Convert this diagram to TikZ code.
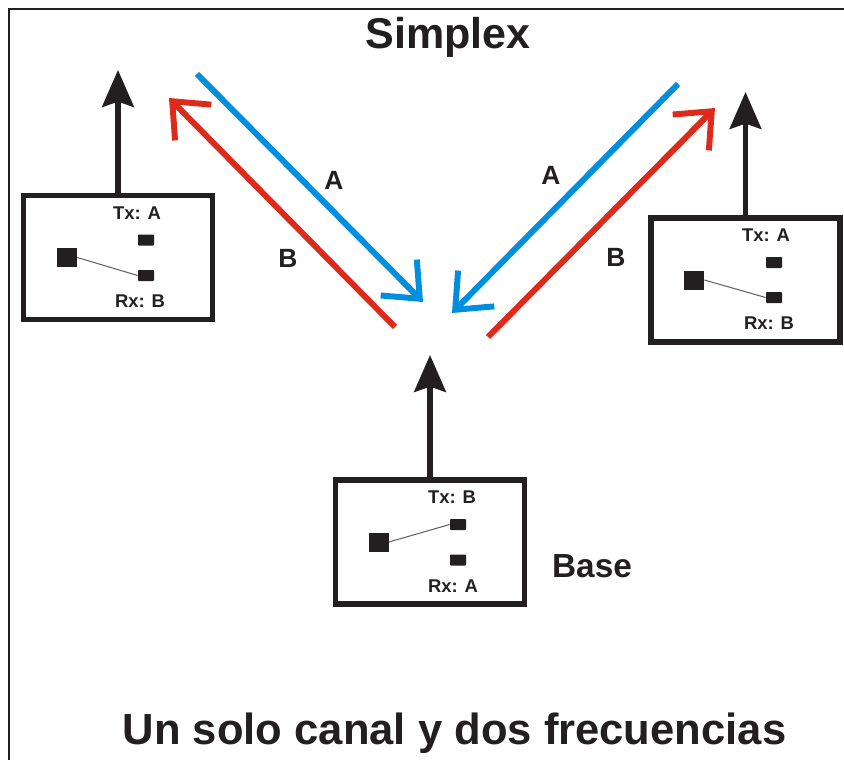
\documentclass[tikz,border=0pt]{standalone}
\usepackage{fontspec}
\setmainfont{Liberation Sans}
\usetikzlibrary{calc}
\usetikzlibrary{arrows.meta}
\definecolor{chanA}{RGB}{0,142,222}
\definecolor{chanB}{RGB}{222,42,27}
\definecolor{ink}{RGB}{35,31,32}

\begin{document}
\begin{tikzpicture}[x=0.02cm,y=-0.02cm]
\tikzset{radio/.style={draw=ink, line width=3pt, minimum width=3.78cm, minimum height=2.48cm, inner sep=0pt}}
\tikzset{plug/.style={fill=ink, inner sep=0pt, minimum width=0.4cm, minimum height=0.38cm}}
\tikzset{pin/.style={fill=ink, inner sep=0pt, minimum width=0.32cm, minimum height=0.22cm, rounded corners=0.5pt}}
\tikzset{lever/.style={draw=ink!70, line width=0.6pt}}
\tikzset{tag/.style={font=\fontsize{10.5}{12}\selectfont\bfseries, text=ink}}
\tikzset{antenna/.style={draw=ink, line width=3pt, -{Stealth[length=21pt, width=18pt, inset=3pt]}}}
\tikzset{wave/.style={line width=3.4pt, -{Straight Barb[length=17pt, width=29pt]}}}
\tikzset{freq/.style={font=\fontsize{15}{18}\selectfont\bfseries, text=ink}}

\useasboundingbox (0,0) rectangle (844,760);
\draw[ink, line width=1.2pt] (9,760) -- (9,9) -- (844,9);

\node[font=\fontsize{24.5}{28}\selectfont\bfseries, text=ink] (title) at (448,37) {Simplex};

% left station
\node[radio] (L) at (118,257.5) {};
\node[plug] (Lsw) at ($(L) + (-51,0)$) {};
\node[pin] (Ltx) at ($(L) + (28,-17.5)$) {};
\node[pin] (Lrx) at ($(L) + (28,18)$) {};
\node[tag] (Ltxl) at ($(L) + (19,-44.5)$) {Tx: A};
\node[tag] (Lrxl) at ($(L) + (22,43.5)$) {Rx: B};
\draw[lever] (Lsw.east) -- (Lrx.west);
\coordinate (Ltip) at (118,70);
\draw[antenna] (L.north) -- (Ltip);

% right station
\node[radio] (R) at (745.5,280) {};
\node[plug] (Rsw) at ($(R) + (-51.5,0)$) {};
\node[pin] (Rtx) at ($(R) + (28.5,-17.5)$) {};
\node[pin] (Rrx) at ($(R) + (28.5,17.5)$) {};
\node[tag] (Rtxl) at ($(R) + (20.5,-45)$) {Tx: A};
\node[tag] (Rrxl) at ($(R) + (23.5,43)$) {Rx: B};
\draw[lever] (Rsw.east) -- (Rrx.west);
\coordinate (Rtip) at (745.5,92);
\draw[antenna] (R.north) -- (Rtip);

% base
\node[radio] (B) at (430,542) {};
\node[plug] (Bsw) at ($(B) + (-51.5,0)$) {};
\node[pin] (Btx) at ($(B) + (28,-17.5)$) {};
\node[pin] (Brx) at ($(B) + (28,18)$) {};
\node[tag] (Btxl) at ($(B) + (22,-45)$) {Tx: B};
\node[tag] (Brxl) at ($(B) + (23,44)$) {Rx: A};
\draw[lever] (Bsw.east) -- (Btx.west);
\coordinate (Btip) at (430,355);
\draw[antenna] (B.north) -- (Btip);
\node[font=\fontsize{19}{22}\selectfont\bfseries, text=ink] (Blbl) at (592,566) {Base};

% channels
\coordinate (LAs) at (197,74);
\coordinate (LAe) at (423,302);
\coordinate (LBs) at (395,327);
\coordinate (LBe) at (169,98);
\coordinate (RAs) at (678,84);
\coordinate (RAe) at (452,313);
\coordinate (RBs) at (488,337);
\coordinate (RBe) at (715,108);
\draw[wave, chanA] (LAs) -- (LAe);
\draw[wave, chanB] (LBs) -- (LBe);
\draw[wave, chanA] (RAs) -- (RAe);
\draw[wave, chanB] (RBs) -- (RBe);
\node[freq] (LA) at (334,180) {A};
\node[freq] (LB) at (288,258) {B};
\node[freq] (RA) at (551,175) {A};
\node[freq] (RB) at (616,257) {B};

\node[font=\fontsize{24.8}{28}\selectfont\bfseries, text=ink] (note) at (454.5,733) {Un solo canal y dos frecuencias};
\end{tikzpicture}
\end{document}
